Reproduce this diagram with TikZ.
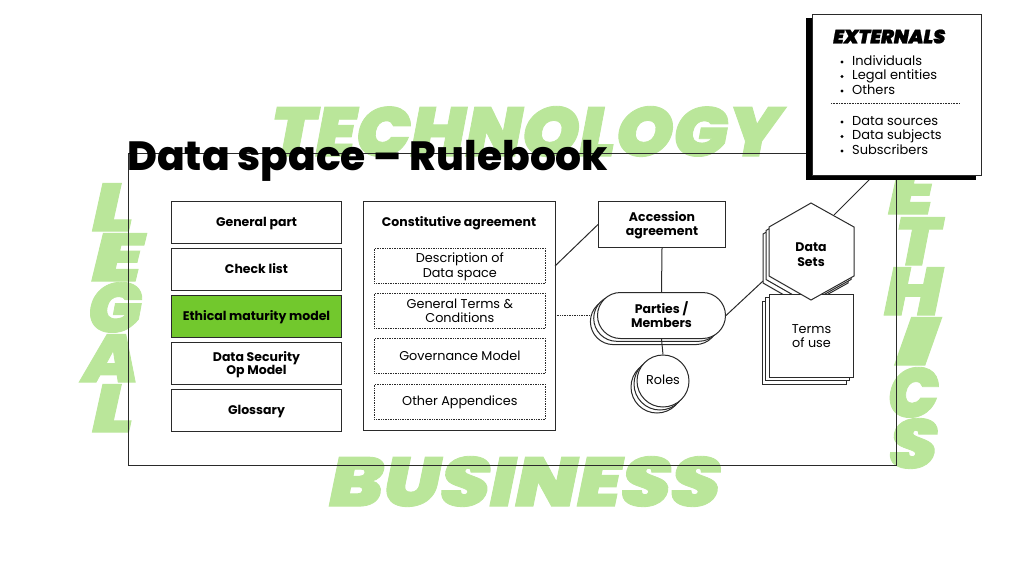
\documentclass[tikz,border=0pt]{standalone}
\usepackage{fontspec}
\usepackage{graphicx}
\setmainfont{Poppins}
\newfontfamily\heavy[FakeSlant=0.18,FakeBold=1.2]{Poppins Black}
\newfontfamily\titlefont{Poppins ExtraBold}
\definecolor{lg}{HTML}{BAE69A}
\definecolor{gr}{HTML}{72C82D}
\definecolor{ln}{HTML}{2A2A2A}
\newcommand{\ph}{\rule[-2.6pt]{0pt}{14.1pt}}
\tikzset{
 px/.style={x=1pt,y=-1pt},
 box/.style={draw=ln,line width=1pt,fill=white},
 boxlabel/.style={font={\fontsize{12.5}{14}\selectfont\bfseries\lineskiplimit-20pt },align=center,text=black},
 plainlabel/.style={font={\fontsize{12.8}{14.5}\selectfont\lineskiplimit-20pt },align=center,text=black},
 dotbox/.style={draw=ln,densely dotted,line width=.7pt},
 wire/.style={draw=ln,line width=1pt},
 bg/.style={inner sep=0pt,text=lg,anchor=north west},
 bl/.style={font=\fontsize{13}{14.5}\selectfont,anchor=west,inner sep=0pt,text height=9.5pt,text depth=3pt},
}
\newcommand{\bgword}[5]{\node[bg] (#1) at (#2) {\resizebox{#3pt}{#4pt}{\heavy #5}};}
\begin{document}
\begin{tikzpicture}[px]
\useasboundingbox (0,0) rectangle (1024,576);
% background words
\bgword{wt}{267,106}{510}{50}{TECHNOLOGY}
\bgword{wb}{325,456}{391}{50}{BUSINESS}
\bgword{l1}{88,183}{42}{48}{L}
\bgword{l2}{87,233}{51}{48}{E}
\bgword{l3}{84,282}{54}{50}{G}
\bgword{l4}{79,334}{56}{48}{A}
\bgword{l5}{88,384}{42}{48}{L}
\bgword{e1}{884,166}{46}{48}{E}
\bgword{e2}{891,217}{45}{48}{T}
\bgword{e3}{880,267}{58}{48}{H}
\bgword{e4}{888,317}{43}{48}{I}
\bgword{e5}{884,367}{51}{50}{C}
\bgword{e6}{885,418}{48}{50}{S}
% frame
\node[draw=ln,line width=1pt,minimum width=768pt,minimum height=312pt,anchor=north west,inner sep=0pt] (frame) at (128,153) {};
\node[inner sep=0pt,anchor=west] (title) at (127,161) {\resizebox{481pt}{!}{\titlefont Data space – Rulebook}};
% left column
\foreach \n/\y/\t in {a/201/\ph General part,b/248/\ph Check list,d/342/{\ph Data Security\\[-1pt]\ph Op Model},e/389/\ph Glossary}{
 \node[box,boxlabel,minimum width=170pt,minimum height=42pt,inner sep=0pt,anchor=north west] (\n) at (171,\y) {\t};
}
\node[box,boxlabel,fill=gr,minimum width=170pt,minimum height=42pt,inner sep=0pt,anchor=north west] (c) at (171,295) {\ph Ethical maturity model};
% constitutive
\node[box,minimum width=192pt,minimum height=229pt,inner sep=0pt,anchor=north west] (ca) at (363,201) {};
\node[boxlabel,inner sep=0pt] (cat) at (459,222) {\ph Constitutive agreement};
\foreach \n/\y/\t in {p1/248/{\ph Description of\\\ph Data space},p2/293/{\ph General Terms \&\\\ph Conditions},p3/338/\ph Governance Model,p4/384/\ph Other Appendices}{
 \node[dotbox,plainlabel,minimum width=171pt,minimum height=35pt,inner sep=0pt,anchor=north west] (\n) at (374,\y) {\t};
}
% accession
\node[box,boxlabel,minimum width=127pt,minimum height=46pt,inner sep=0pt,anchor=north west] (acc) at (598,201) {\ph Accession\\\ph agreement};
\coordinate (caA) at (555,266);
\coordinate (caB) at (555,315.5);
\coordinate (pL) at (591,315.5);
\draw[wire] (caA) -- (acc.west);
\draw[ln,densely dotted,line width=.7pt] (caB) -- (pL);
% parties stack
\foreach \dx/\dy in {-6.6/6.6,-3.3/3.3}{
 \draw[box,rounded corners=23pt] ({597+\dx},{292+\dy}) rectangle ({725+\dx},{338+\dy});
}
\node[box,boxlabel,rounded corners=23pt,minimum width=128pt,minimum height=46pt,inner sep=0pt,anchor=north west] (par) at (597,292) {\ph Parties /\\\ph Members};
\draw[wire] (acc.south) -- (par.north);
% roles stack
\foreach \dx/\dy in {-6/6,-3/3}{
 \draw[box] ({663+\dx},{381+\dy}) circle (26pt);
}
\node[box,circle,minimum size=52pt,inner sep=0pt,plainlabel] (rol) at (663,381) {\vphantom{Ag}Roles};
\draw[wire] (par.south) -- (rol.north);
% hexagon rear layers
\foreach \dx/\dy in {-6/7,-3/3.5}{
 \draw[box,shift={(\dx,\dy)}] (811,203)--(854,227)--(854,276)--(811,300)--(769,276)--(769,227)--cycle;
}
% terms stack
\foreach \dx/\dy in {-6.6/7,-3.3/3.5}{
 \draw[box] ({769+\dx},{294+\dy}) rectangle ({853+\dx},{377+\dy});
}
\node[box,plainlabel,minimum width=84pt,minimum height=83pt,inner sep=0pt,anchor=north west] (tou) at (769,294) {\ph Terms\\\ph of use};
% hexagon front
\draw[box] (811,203)--(854,227)--(854,276)--(811,300)--(769,276)--(769,227)--cycle;
\node[boxlabel,inner sep=0pt,font={\fontsize{12.5}{14.5}\selectfont\bfseries\lineskiplimit-20pt }] (ds) at (811,254.5) {\ph Data\\\ph Sets};
\coordinate (hexL) at (763,281);
\coordinate (hexT) at (834,215);
\coordinate (extB) at (870,179);
\draw[wire] (par.east) -- (hexL);
\draw[wire] (hexT) -- (extB);
% externals
\fill[black] (806,18) rectangle (976,180);
\node[draw=ln,line width=1pt,fill=white,minimum width=169pt,minimum height=161pt,inner sep=0pt,anchor=north west] (ext) at (812,14) {};
\node[inner sep=0pt,anchor=west] (extt) at (832,36.5) {\resizebox{112pt}{!}{\heavy EXTERNALS}};
\foreach \n/\y/\t in {i1/62/Individuals,i2/76.5/Legal entities,i3/91/Others,i4/122/Data sources,i5/136.5/Data subjects,i6/151/Subscribers}{
 \node[bl] (\n) at (852,\y) {\t};
 \fill ([xshift=-10pt]\n.west) circle (1.7pt);
}
\coordinate (sepL) at (831,103.5);
\coordinate (sepR) at (960,103.5);
\draw[ln,densely dotted,line width=.6pt] (sepL) -- (sepR);
\end{tikzpicture}
\end{document}
